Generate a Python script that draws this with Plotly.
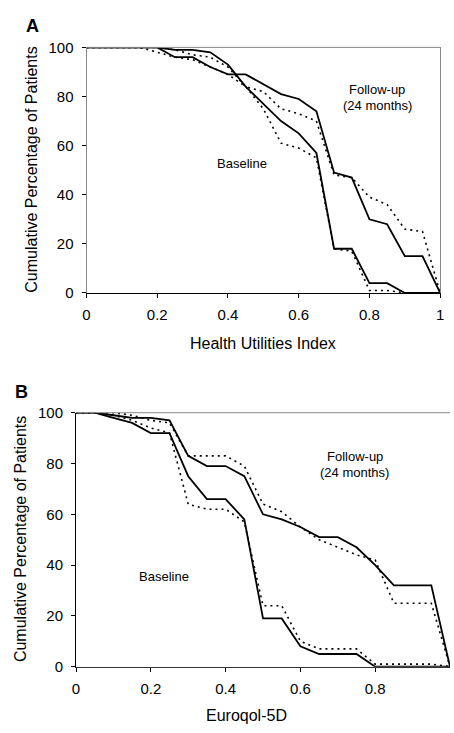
import plotly.graph_objects as go

# ---------------- data ----------------
x_vals = [0, 0.05, 0.1, 0.15, 0.2, 0.25, 0.3, 0.35, 0.4, 0.45, 0.5,
          0.55, 0.6, 0.65, 0.7, 0.75, 0.8, 0.85, 0.9, 0.95, 1.0]

# Panel A: Health Utilities Index
hui_baseline_solid = [100, 100, 100, 100, 100, 99, 99, 98, 93, 84, 77, 70, 65, 57, 18, 18, 4, 4, 0, 0, 0]
hui_baseline_dotted = [100, 100, 100, 100, 98, 96, 95, 92, 89, 84, 75, 61, 59, 55, 18, 17, 1, 1, 0, 0, 0]
hui_followup_solid = [100, 100, 100, 100, 100, 96, 96, 92, 89, 89, 85, 81, 79, 74, 49, 47, 30, 28, 15, 15, 0]
hui_followup_dotted = [100, 100, 100, 100, 100, 99, 97, 96, 92, 84, 82, 75, 73, 70, 48, 47, 39, 36, 26, 25, 0]

# Panel B: Euroqol-5D
eq_baseline_solid = [100, 100, 98, 96, 92, 92, 75, 66, 66, 58, 19, 19, 8, 5, 5, 5, 0, 0, 0, 0, 0]
eq_baseline_dotted = [100, 100, 99, 97, 94, 92, 64, 62, 62, 57, 24, 24, 10, 7, 7, 7, 1, 1, 1, 1, 0]
eq_followup_solid = [100, 100, 99, 98, 98, 97, 83, 79, 79, 75, 60, 58, 55, 51, 51, 47, 40, 32, 32, 32, 0]
eq_followup_dotted = [100, 100, 100, 99, 97, 96, 83, 83, 83, 79, 64, 61, 55, 50, 47, 44, 42, 25, 25, 25, 0]

x_tickvals_a = [0, 0.2, 0.4, 0.6, 0.8, 1.0]
x_ticktext_a = ["0", "0.2", "0.4", "0.6", "0.8", "1"]
x_tickvals_b = [0, 0.2, 0.4, 0.6, 0.8]
x_ticktext_b = ["0", "0.2", "0.4", "0.6", "0.8"]
y_tickvals = [0, 20, 40, 60, 80, 100]
y_ticktext = ["0", "20", "40", "60", "80", "100"]

# ---------------- figure ----------------
W, H = 454, 733
FONT = "Liberation Sans, Arial, sans-serif"
DOT = "2px,4px"

fig = go.Figure()

def add_line(y, xa, ya, dotted):
    fig.add_trace(go.Scatter(
        x=x_vals, y=y, mode="lines", xaxis=xa, yaxis=ya,
        line=dict(color="black", width=1.6 if dotted else 1.8,
                  dash=DOT if dotted else "solid"),
        hoverinfo="skip", showlegend=False))

add_line(hui_baseline_solid, "x", "y", False)
add_line(hui_baseline_dotted, "x", "y", True)
add_line(hui_followup_solid, "x", "y", False)
add_line(hui_followup_dotted, "x", "y", True)

add_line(eq_baseline_solid, "x2", "y2", False)
add_line(eq_baseline_dotted, "x2", "y2", True)
add_line(eq_followup_solid, "x2", "y2", False)
add_line(eq_followup_dotted, "x2", "y2", True)

def px_x(p):
    return p / W

def px_y(p):
    return 1 - p / H

tickfont = dict(family=FONT, size=15, color="black")

common_x = dict(showgrid=False, zeroline=False, showline=True, linewidth=1,
                ticks="outside", ticklen=4, tickcolor="black", tickfont=tickfont,
                ticklabelstandoff=4, fixedrange=True)
common_y = dict(showgrid=False, zeroline=False, showline=True, linewidth=1,
                ticks="outside", ticklen=4, tickcolor="black",
                tickvals=y_tickvals, ticktext=y_ticktext, tickfont=tickfont,
                ticklabelstandoff=5, range=[0, 100], fixedrange=True)

fig.update_layout(
    width=W, height=H,
    margin=dict(l=0, r=0, t=0, b=0),
    paper_bgcolor="white", plot_bgcolor="white",
    font=dict(family=FONT, color="black"),
    xaxis=dict(common_x, domain=[px_x(84), px_x(444)], range=[0, 1],
               tickvals=x_tickvals_a, ticktext=x_ticktext_a,
               linecolor="black", anchor="y"),
    yaxis=dict(common_y, domain=[px_y(290.7), px_y(39.3)],
               linecolor="#888", mirror=True, anchor="x"),
    xaxis2=dict(common_x, domain=[px_x(73.3), 1.0], range=[0, 1.0],
                tickvals=x_tickvals_b, ticktext=x_ticktext_b,
                linecolor="#333", anchor="y2"),
    yaxis2=dict(common_y, domain=[px_y(673.3), px_y(413.3)],
                linecolor="black", anchor="x2"),
)

# top border lines of each panel
fig.add_shape(type="line", xref="x domain", yref="y domain", x0=0, x1=1, y0=1, y1=1,
              line=dict(color="#888", width=1))
fig.add_shape(type="line", xref="x2 domain", yref="y2 domain", x0=0, x1=1, y0=1, y1=1,
              line=dict(color="#888", width=1))

def ann(text, x, y, size, bold=False, angle=0):
    fig.add_annotation(text=f"<b>{text}</b>" if bold else text,
                       xref="paper", yref="paper", x=px_x(x), y=px_y(y),
                       xanchor="center", yanchor="middle", showarrow=False,
                       textangle=angle, font=dict(family=FONT, size=size, color="black"))

# panel letters
ann("A", 29, 17, 18, bold=True)
ann("B", 18, 392, 18, bold=True)

# axis titles
ann("Cumulative Percentage of Patients", 28, 165, 16, angle=-90)
ann("Health Utilities Index", 264, 342, 16)
ann("Cumulative Percentage of Patients", 17, 543, 16, angle=-90)
ann("Euroqol-5D", 247, 723, 16)

# curve labels
ann("Follow-up", 380, 82, 13)
ann("(24 months)", 380, 99, 13)
ann("Baseline", 242, 158, 13)
ann("Follow-up", 357, 458, 13)
ann("(24 months)", 357, 475, 13)
ann("Baseline", 163, 581, 13)

fig.write_html("out.html", config={"displayModeBar": False},
               post_script="document.body.style.margin='0';document.body.style.overflow='hidden';")
